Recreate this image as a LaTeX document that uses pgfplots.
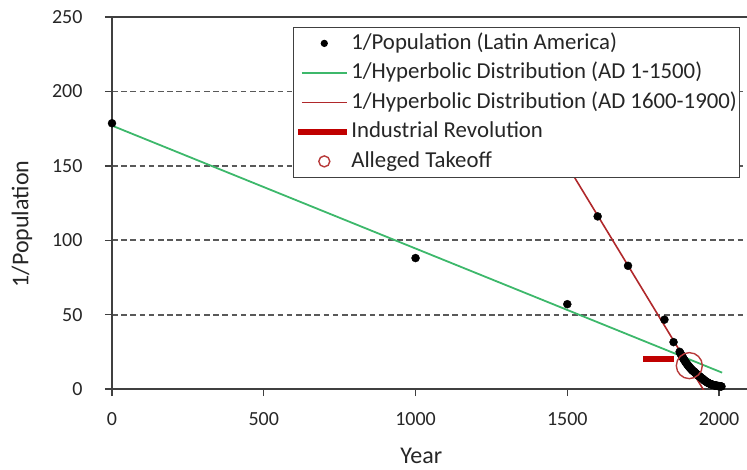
\documentclass[border=0pt]{standalone}
\usepackage{pgfplots}
\pgfplotsset{compat=1.18}
\usepackage{fontspec}
\setmainfont{Carlito}
\definecolor{gridc}{HTML}{595959}
\definecolor{axisc}{HTML}{404040}
\definecolor{greenl}{HTML}{3DB86B}
\definecolor{redl}{HTML}{B0282B}
\definecolor{indr}{HTML}{C00000}
\definecolor{circ}{HTML}{B83A3A}
\pgfplotsset{
  lineleg/.style={legend image code/.code={\draw[##1] (0pt,0pt) -- (45pt,0pt);}},
  barleg/.style={legend image code/.code={\draw[##1] (-4pt,0pt) -- (45pt,0pt);}},
  dotleg/.style={legend image code/.code={\draw[mark repeat=2,mark phase=2,##1,mark size=3pt] plot coordinates {(0pt,0pt) (22.5pt,0pt) (45pt,0pt)};}},
  circleg/.style={legend image code/.code={\draw[mark repeat=2,mark phase=2,##1,mark size=5.5pt] plot coordinates {(0pt,0pt) (22.5pt,0pt) (45pt,0pt)};}},
}
\pgfplotstableread{
year val
0 178.6
1000 88.0
1500 57.0
1600 116.0
1700 82.8
1820 46.6
1850 31.5
1870 25.0
1872 24.2
1874 23.5
1876 22.7
1878 22.0
1880 21.3
1882 20.6
1884 19.9
1886 19.3
1888 18.6
1890 18.0
1892 17.4
1894 16.9
1896 16.3
1898 15.8
1900 15.3
1902 14.8
1904 14.3
1906 13.9
1908 13.4
1910 13.0
1912 12.5
1914 12.2
1916 11.9
1918 11.6
1920 11.2
1922 10.8
1924 10.4
1926 10.0
1928 9.7
1930 9.3
1932 9.0
1934 8.7
1936 8.4
1938 8.1
1940 7.7
1942 7.4
1944 7.1
1946 6.8
1948 6.5
1950 6.0
1952 5.7
1954 5.4
1956 5.2
1958 4.9
1960 4.6
1962 4.4
1964 4.1
1966 3.9
1968 3.7
1970 3.5
1972 3.35
1974 3.18
1976 3.04
1978 2.90
1980 2.77
1982 2.65
1984 2.54
1986 2.44
1988 2.35
1990 2.27
1992 2.19
1994 2.12
1996 2.05
1998 1.99
2000 1.93
2002 1.88
2004 1.83
2006 1.78
2008 1.74
}\popdata
\begin{document}
\begin{tikzpicture}
\begin{axis}[
  set layers,
  scale only axis, width=635pt, height=372pt,
  xmin=0, xmax=2092, ymin=0, ymax=250,
  xtick={0,500,1000,1500,2000},
  ytick={0,50,100,150,200},
  extra y ticks={250},
  extra y tick style={grid style={solid, axisc, line width=1.4pt}},
  axis x line*=bottom, axis y line*=left,
  axis line style={-, axisc, line width=1.4pt},
  ymajorgrids,
  grid style={dash pattern=on 5.5pt off 3.7pt, gridc, line width=1.8pt},
  tick align=outside, major tick length=7pt,
  tick style={axisc, line width=1.4pt},
  /pgf/number format/assume math mode=true,
  /pgf/number format/1000 sep={},
  ticklabel style={font=\fontsize{20}{24}\selectfont, text=black!85},
  xticklabel style={yshift=-13pt},
  yticklabel style={xshift=-19pt},
  xlabel={Year}, ylabel={1/Population},
  every axis x label/.style={at={(axis description cs:0.487,-0.180)}, anchor=center,
    font=\fontsize{24}{28}\selectfont, text=black!85},
  every axis y label/.style={at={(axis description cs:-0.1417,0.4435)}, anchor=center, rotate=90,
    font=\fontsize{24}{28}\selectfont, text=black!85},
  legend style={at={(0.989,0.973)}, anchor=north east, draw=axisc, line width=1.2pt,
    fill=white, inner sep=1pt,
    font=\fontsize{22.8}{26}\selectfont, text=black!85,
    nodes={inner xsep=1.5pt, inner ysep=2.8pt, text height=17.6pt, text depth=6.3pt}},
  legend cell align=left,
  clip=true,
]
\addplot[only marks, mark=*, mark size=4pt, black, on layer=axis foreground, dotleg]
  table[x=year, y=val] {\popdata};
\addlegendentry{1/Population (Latin America)}
\addplot[greenl, line width=1.8pt, lineleg]
  coordinates {(0,177) (2010,11.0)};
\addlegendentry{1/Hyperbolic Distribution (AD 1-1500)}
\addplot[redl, line width=1.6pt, lineleg]
  coordinates {(1250,234.2) (1960,-4.4)};
\addlegendentry{1/Hyperbolic Distribution (AD 1600-1900)\hspace{12pt}}
\addplot[indr, line width=6pt, barleg]
  coordinates {(1750,20) (1850,20)};
\addlegendentry{Industrial Revolution}
\addplot[only marks, mark=o, mark size=13pt, circ, line width=1.4pt, on layer=axis foreground, circleg]
  coordinates {(1902,15.7)};
\addlegendentry{Alleged Takeoff}
\end{axis}
\pgfresetboundingbox
\path[use as bounding box] ([xshift=-112pt,yshift=-80pt]current axis.south west) rectangle ([yshift=17pt]current axis.north east);
\end{tikzpicture}
\end{document}
